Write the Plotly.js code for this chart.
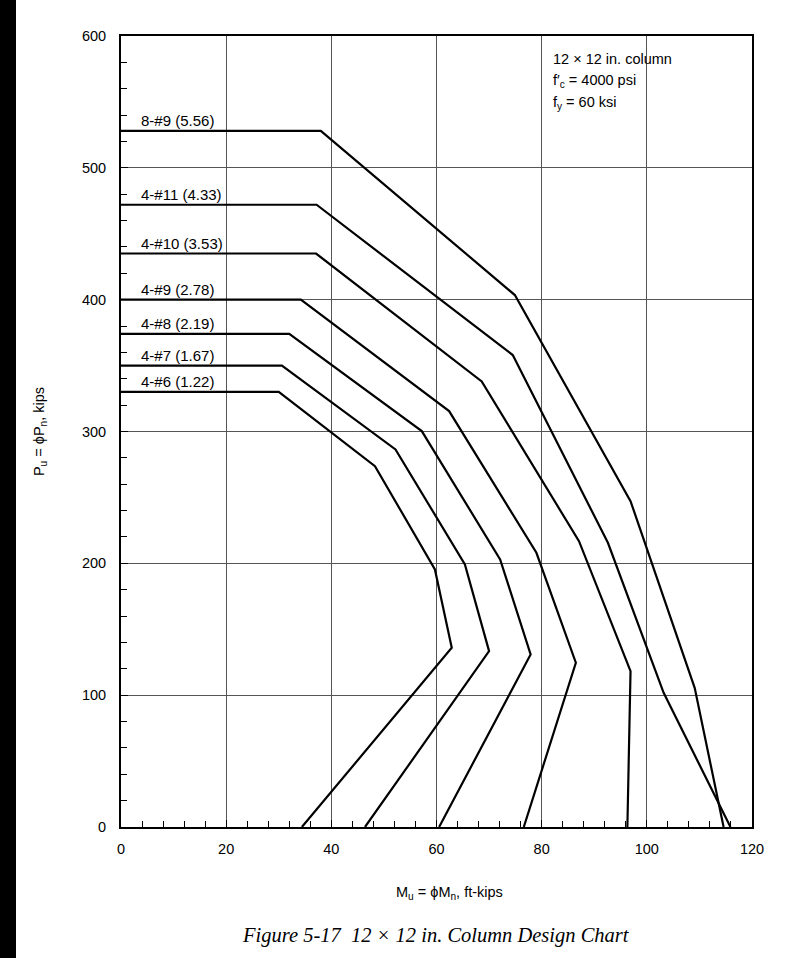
<!DOCTYPE html>
<html>
<head>
<meta charset="utf-8">
<script src="https://cdn.plot.ly/plotly-3.0.1.min.js"></script>
<style>
  html, body { margin: 0; padding: 0; background: #ffffff; }
  #chart { width: 794px; height: 958px; }
  #strip { position: absolute; left: 0; top: 0; width: 16px; height: 958px; background: #000; z-index: 5; }
</style>
</head>
<body>
<div id="strip"></div>
<div id="chart"></div>
<script>
// Interaction curves: M_u (ft-kips) vs P_u (kips)
const seriesNames = ['8-#9 (5.56)', '4-#11 (4.33)', '4-#10 (3.53)', '4-#9 (2.78)', '4-#8 (2.19)', '4-#7 (1.67)', '4-#6 (1.22)'];

const m_8no9  = [0, 38.0, 74.9, 96.9, 109.1, 114.6];
const p_8no9  = [528, 528, 403.5, 247.2, 105.6, 0];

const m_4no11 = [0, 37.2, 74.5, 92.6, 103.2, 115.9];
const p_4no11 = [472, 472, 358, 215.6, 101.8, 0];

const m_4no10 = [0, 37.1, 68.6, 87.1, 96.9, 96.3];
const p_4no10 = [435, 435, 338, 216.8, 118.2, 0];

const m_4no9  = [0, 34.2, 62.4, 79.0, 86.5, 76.6];
const p_4no9  = [400, 400, 315.5, 208, 124.6, 0];

const m_4no8  = [0, 32.0, 57.2, 72.1, 77.9, 60.5];
const p_4no8  = [374, 374, 300.3, 203, 130.9, 0];

const m_4no7  = [0, 30.6, 52.2, 65.4, 70.0, 46.4];
const p_4no7  = [350, 350, 286.4, 199.2, 133.4, 0];

const m_4no6  = [0, 30.0, 48.3, 59.7, 62.9, 34.4];
const p_4no6  = [330, 330, 273.7, 195.4, 136, 0];

const xTickVals = [0, 20, 40, 60, 80, 100, 120];
const yTickVals = [0, 100, 200, 300, 400, 500, 600];

const infoLines = ['12 × 12 in. column', 'f′<sub>c</sub> = 4000 psi', 'f<sub>y</sub> = 60 ksi'];

const mSeries = [m_8no9, m_4no11, m_4no10, m_4no9, m_4no8, m_4no7, m_4no6];
const pSeries = [p_8no9, p_4no11, p_4no10, p_4no9, p_4no8, p_4no7, p_4no6];

const FONT = 'Liberation Sans, Arial, Helvetica, sans-serif';

const traces = seriesNames.map((name, i) => ({
  type: 'scatter',
  mode: 'lines',
  name: name,
  x: mSeries[i],
  y: pSeries[i],
  line: { color: '#000000', width: 2.2 },
  hoverinfo: 'skip',
  showlegend: false
}));

const annotations = seriesNames.map((name, i) => ({
  x: mSeries[i][0],
  y: pSeries[i][0],
  xref: 'x', yref: 'y',
  text: name,
  showarrow: false,
  xanchor: 'left', yanchor: 'middle',
  xshift: 18, yshift: 10,
  font: { family: FONT, size: 15, color: '#000' }
}));

infoLines.forEach((t, i) => {
  annotations.push({
    xref: 'paper', yref: 'paper', x: 0.682, y: 1, yshift: -23 - 22 * i,
    xanchor: 'left', yanchor: 'middle', align: 'left',
    showarrow: false,
    text: t,
    font: { family: FONT, size: 14.5, color: '#000' }
  });
});

annotations.push({
  xref: 'paper', yref: 'paper', x: 0.52, y: 0, yshift: -66,
  xanchor: 'center', yanchor: 'middle',
  showarrow: false,
  text: 'M<sub>u</sub> = ϕM<sub>n</sub>, ft-kips',
  font: { family: FONT, size: 14.5, color: '#000' }
});

annotations.push({
  xref: 'paper', yref: 'paper', x: 0.499, y: 0, yshift: -108,
  xanchor: 'center', yanchor: 'middle',
  showarrow: false,
  text: 'Figure 5-17  12 × 12 in. Column Design Chart',
  font: { family: 'Liberation Serif, Times New Roman, serif', size: 20.5, color: '#000', style: 'italic' }
});

const layout = {
  width: 794, height: 958,
  margin: { l: 121, r: 42, t: 36, b: 131 },
  paper_bgcolor: '#ffffff',
  plot_bgcolor: '#ffffff',
  showlegend: false,
  font: { family: FONT, size: 14, color: '#000' },
  xaxis: {
    range: [0, 120],
    tickvals: xTickVals,
    ticktext: xTickVals.map(String),
    ticks: 'inside', ticklen: 7, tickwidth: 1, tickcolor: '#000',
    showline: true, linewidth: 2, linecolor: '#000', mirror: true,
    showgrid: true, gridcolor: '#555', gridwidth: 1,
    zeroline: false,
    ticklabelstandoff: 8,
    tickfont: { family: FONT, size: 14.5, color: '#000' },
    minor: { dtick: 4, tick0: 0, ticks: 'inside', ticklen: 6, tickwidth: 1, tickcolor: '#000', showgrid: false }
  },
  yaxis: {
    range: [0, 600],
    tickvals: yTickVals,
    ticktext: yTickVals.map(String),
    ticks: 'inside', ticklen: 7, tickwidth: 1, tickcolor: '#000',
    showline: true, linewidth: 2, linecolor: '#000', mirror: true,
    showgrid: true, gridcolor: '#555', gridwidth: 1,
    zeroline: false,
    ticklabelstandoff: 10,
    tickfont: { family: FONT, size: 14.5, color: '#000' },
    title: { text: 'P<sub>u</sub> = ϕP<sub>n</sub>, kips', font: { family: FONT, size: 14.5, color: '#000' }, standoff: 34 },
    minor: { dtick: 20, tick0: 0, ticks: 'inside', ticklen: 6, tickwidth: 1, tickcolor: '#000', showgrid: false }
  },
  annotations: annotations
};

Plotly.newPlot('chart', traces, layout, { displayModeBar: false, staticPlot: true });
</script>
</body>
</html>
